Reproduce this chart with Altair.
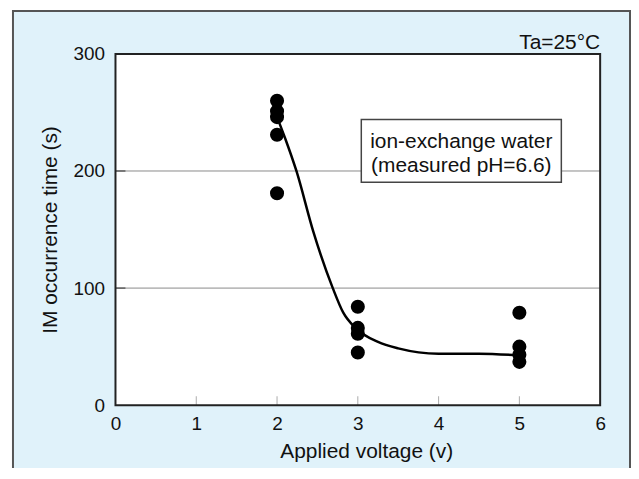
import altair as alt
import pandas as pd

# ---- data ----
pt_voltage = [2, 2, 2, 2, 2, 3, 3, 3, 3, 5, 5, 5, 5]
pt_time = [260, 251, 246, 231, 181, 84, 66, 61, 45, 79, 50, 43, 37]

curve_voltage = [2.0, 2.1, 2.24, 2.45, 2.69, 2.82, 2.97, 3.25, 3.5, 4.0, 4.5, 5.0]
curve_time = [246, 228, 200, 148, 100, 79, 66, 54, 48.5, 44, 44, 42.5]

x_tick_values = [0, 1, 2, 3, 4, 5, 6]
y_tick_values = [0, 100, 200, 300]
x_inner_ticks = [1, 2, 3, 4, 5]
y_inner_ticks = [100, 200]
grid_values = [100, 200]

x_title = "Applied voltage (v)"
y_title = "IM occurrence time (s)"
note_lines = ["ion-exchange water", "(measured pH=6.6)"]
temp_label = "Ta=25°C"

# ---- layout ----
W, H = 487, 353
FONT = "Liberation Sans"
BG = "#e0f2fa"

xs = alt.Scale(domain=[0, 6], nice=False, zero=False)
ys = alt.Scale(domain=[0, 300], nice=False, zero=False)
xa = alt.Axis(values=x_tick_values, title=x_title, domain=False, ticks=False, tickSize=0,
              grid=False, labelFontSize=19, labelPadding=9, labelColor="#111",
              labelFlush=False, labelOverlap=False,
              titleFontSize=21, titleFontWeight="normal", titleColor="#111",
              titleX=252, titleY=53, titleBaseline="alphabetic", titleAlign="center",
              labelFont=FONT, titleFont=FONT, zindex=2)
ya = alt.Axis(values=y_tick_values, title=y_title, domain=False, ticks=False, tickSize=0,
              grid=False, labelFontSize=19, labelPadding=11, labelColor="#111",
              labelFlush=False, labelOverlap=False,
              titleFontSize=21, titleFontWeight="normal", titleColor="#111",
              titleX=-59, titleY=176.5, titleAngle=270, titleBaseline="alphabetic",
              titleAlign="center", labelFont=FONT, titleFont=FONT, zindex=2)

pts = pd.DataFrame({"v": pt_voltage, "t": pt_time})
crv = pd.DataFrame({"v": curve_voltage, "t": curve_time})
grid = pd.DataFrame({"g": grid_values})
xt = pd.DataFrame({"v": x_inner_ticks})
yt = pd.DataFrame({"t": y_inner_ticks})
one = pd.DataFrame({"a": [0]})

def X(field=None, datum=None):
    if datum is not None:
        return alt.X(datum=datum, type="quantitative", scale=xs, axis=xa)
    return alt.X(field, type="quantitative", scale=xs, axis=xa)

def Y(field=None, datum=None):
    if datum is not None:
        return alt.Y(datum=datum, type="quantitative", scale=ys, axis=ya)
    return alt.Y(field, type="quantitative", scale=ys, axis=ya)

frame = alt.Chart(one).mark_rect(fill=BG, stroke="#555", strokeWidth=2, clip=False).encode(
    x=alt.value(-103), x2=alt.value(W + 30), y=alt.value(-43), y2=alt.value(H + 120))

plot_bg = alt.Chart(one).mark_rect(fill="white", clip=False).encode(
    x=alt.value(0), x2=alt.value(W), y=alt.value(0), y2=alt.value(H))

grid_rules = alt.Chart(grid).mark_rule(color="#8a8a8a", strokeWidth=1).encode(y=Y("g"))

x_ticks = alt.Chart(xt).mark_tick(orient="vertical", size=9, thickness=1, color="#888",
                                  yOffset=-4.5).encode(x=X("v"), y=Y(datum=0))
y_ticks = alt.Chart(yt).mark_tick(orient="horizontal", size=10, thickness=1.5, color="#333",
                                  xOffset=5).encode(y=Y("t"), x=X(datum=0))

curve = alt.Chart(crv).mark_line(interpolate="monotone", color="black", strokeWidth=2.5).encode(
    x=X("v"), y=Y("t"), order=alt.Order("v:Q"))

points = alt.Chart(pts).mark_circle(size=200, color="black", opacity=1).encode(x=X("v"), y=Y("t"))

box = alt.Chart(one).mark_rect(fill="white", stroke="#444", strokeWidth=1.5).encode(
    x=alt.value(247), x2=alt.value(448), y=alt.value(66), y2=alt.value(129))

note = alt.Chart(one).mark_text(text=note_lines, lineHeight=24, align="center",
                                baseline="alphabetic", fontSize=21, font=FONT,
                                color="#111").encode(x=alt.value(347.5), y=alt.value(94.3))

temp = alt.Chart(one).mark_text(text=temp_label, align="right", baseline="alphabetic",
                                fontSize=21, font=FONT, color="#111", clip=False).encode(
    x=alt.value(W), y=alt.value(-5))

border = alt.Chart(one).mark_rect(fill=None, stroke="#222", strokeWidth=2).encode(
    x=alt.value(0), x2=alt.value(W), y=alt.value(0), y2=alt.value(H))

chart = alt.layer(frame, plot_bg, grid_rules, x_ticks, y_ticks, curve, points, box, note,
                  temp, border).properties(
    width=W, height=H,
    autosize=alt.AutoSizeParams(type="none"),
    padding={"left": 108, "top": 45, "right": 31, "bottom": 62},
).configure_view(stroke=None).configure(font=FONT)

chart.save("out.html", embed_options={"renderer": "svg", "actions": False})
